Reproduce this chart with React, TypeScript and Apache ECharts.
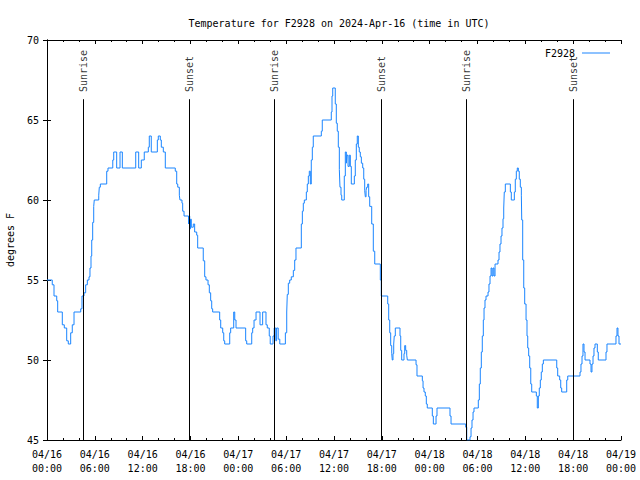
import React, { useEffect, useRef } from "react";
import * as echarts from "echarts";

// Hours since 2024-04-16 00:00 UTC and the temperature (°F) that starts at that moment
const sampleHours = [
  0, 0.66, 0.88, 1.22, 1.34, 1.92, 2.17, 2.47, 2.67, 2.97, 3.17, 3.39, 4.23, 4.39, 4.64, 4.85,
  5.06, 5.27, 5.39, 5.52, 5.61, 5.73, 5.86, 5.93, 6.49, 6.56, 6.69, 7.49, 7.65, 8.25, 8.37, 8.74,
  9.16, 9.45, 11.13, 11.5, 11.83, 12.2, 12.71, 12.83, 13.08, 13.84, 13.96, 14.21, 14.34, 14.59, 14.84, 16.09,
  16.27, 16.4, 16.6, 16.68, 16.93, 17.02, 17.19, 17.75, 17.8, 17.9, 18.0, 18.1, 18.35, 18.52, 18.78, 18.9,
  19.6, 19.78, 19.94, 20.2, 20.36, 20.53, 20.66, 20.78, 21.66, 21.79, 22.04, 22.17, 22.29, 22.92, 23.04, 23.42,
  23.55, 23.71, 24.92, 25.05, 25.68, 25.8, 25.97, 26.22, 26.72, 27.05, 27.47, 27.63, 27.88, 28.0, 28.35, 28.5,
  28.7, 28.8, 29.0, 29.2, 29.9, 30.07, 30.14, 30.27, 30.44, 30.64, 30.9, 31.07, 31.23, 31.9, 32.03, 32.15,
  32.28, 32.53, 32.65, 32.78, 32.9, 33.03, 33.15, 33.28, 33.4, 34.41, 34.53, 35.66, 35.75, 35.84, 36.16, 36.29,
  36.41, 36.54, 36.67, 36.75, 36.88, 36.97, 37.29, 37.42, 37.55, 37.63, 37.76, 37.92, 38.05, 38.17, 38.55, 38.67,
  38.8, 38.92, 39.05, 39.17, 39.3, 39.43, 39.6, 39.73, 39.85, 39.93, 40.02, 40.1, 40.23, 40.35, 40.48, 40.73,
  40.93, 41.11, 41.81, 41.93, 42.74, 42.86, 42.99, 43.11, 43.24, 43.31, 43.4, 43.49, 43.56, 43.69, 44.28, 44.37,
  44.49, 44.78, 44.87, 44.99, 45.12, 45.2, 46.29, 46.41, 47.08, 47.17, 47.29, 47.45, 47.58, 47.7, 48.33, 48.46,
  48.8, 48.92, 50.55, 50.68, 52.52, 52.65, 53.06, 53.19, 53.31, 53.44, 53.56, 54.1, 54.23, 54.35, 54.48, 54.6,
  54.73, 54.82, 54.94, 55.07, 55.32, 55.44, 55.57, 55.7, 55.82, 55.95, 56.07, 56.2, 56.57, 56.7, 56.82, 56.95,
  57.07, 57.2, 57.29, 57.36, 57.49, 58.12, 58.24, 58.62, 58.74, 58.87, 58.99, 59.12, 59.24, 59.37, 59.5, 59.55,
  59.67, 59.8, 59.92, 60.09, 60.21, 60.3, 60.42, 60.55, 60.68, 60.8, 61.38, 61.5, 61.63, 61.75, 61.88, 62.0,
  62.13, 62.26, 63.94, 64.06, 64.31, 64.44, 64.56, 65.19, 65.32, 66.86, 66.98, 67.11, 67.23, 67.36, 67.49, 68.11,
  68.24, 68.36, 68.49, 68.61, 68.74, 69.03, 69.15, 70.12, 70.24, 71.37, 71.5, 71.62, 71.75, 72,
];

const tempF = [
  55, 54.7, 54.0, 53.7, 53.0, 52.2, 52.0, 51.2, 51.0, 51.7, 52.2, 53.0, 53.2, 54.0, 54.2, 54.7,
  55.0, 55.2, 55.75, 56.5, 57.5, 58.6, 59.6, 60.0, 60.3, 60.8, 61.0, 61.8, 62.0, 62.5, 63.0, 62.0,
  63.0, 62.0, 63.0, 62.0, 62.5, 63.0, 63.3, 64.0, 63.0, 63.75, 64.0, 63.75, 63.3, 63.0, 62.0, 61.8,
  61.0, 60.8, 60.3, 60.0, 59.8, 59.3, 59.0, 58.5, 59.0, 58.2, 58.8, 58.3, 58.5, 58.0, 57.8, 57.0,
  56.2, 55.2, 55.0, 54.7, 54.2, 53.7, 53.2, 53.0, 52.5, 52.0, 51.7, 51.2, 51.0, 51.7, 52.0, 53.0,
  52.5, 52.0, 51.2, 51.0, 51.7, 52.0, 52.5, 53.0, 52.2, 53.0, 52.2, 52.0, 51.5, 51.0, 51.5, 52.0,
  51.2, 52.0, 51.3, 51.0, 51.7, 53.0, 54.1, 54.8, 55.0, 55.2, 55.6, 56.25, 57.0, 58.5, 59.3, 59.8,
  60.0, 60.5, 61.0, 61.5, 61.8, 61.0, 62.5, 63.3, 64.0, 64.3, 65.0, 65.5, 66.5, 67.0, 66.0, 64.8,
  64.3, 63.3, 61.9, 60.8, 60.3, 60.0, 61.5, 63.0, 62.3, 62.8, 62.1, 62.8, 62.1, 61.0, 61.5, 62.5,
  63.5, 64.0, 63.3, 63.0, 62.7, 62.3, 62.0, 61.3, 60.6, 60.2, 60.6, 60.8, 61.0, 60.2, 59.6, 58.5,
  56.8, 56.0, 55.0, 54.0, 53.5, 52.5, 51.7, 50.9, 50.4, 50.0, 50.4, 51.0, 51.5, 52.0, 51.5, 50.6,
  50.0, 50.4, 50.9, 50.6, 50.3, 50.0, 49.7, 49.0, 48.7, 48.25, 48.0, 47.75, 47.25, 47.0, 46.5, 46.0,
  46.5, 47.0, 46.5, 46.0, 45.8, 45.0, 45.2, 45.75, 46.25, 46.75, 47.0, 47.5, 48.5, 49.5, 50.5, 51.5,
  52.5, 53.25, 53.75, 54.0, 54.25, 54.75, 55.25, 55.75, 55.25, 55.75, 55.25, 56.0, 56.25, 56.75, 57.25, 57.75,
  58.25, 58.83, 59.5, 60.5, 61.0, 60.5, 60.0, 60.5, 61.3, 61.8, 62.0, 61.8, 61.3, 60.8, 60.3, 58.75,
  56.25, 54.5, 53.5, 52.5, 51.5, 50.75, 50.25, 49.5, 48.5, 48.0, 47.75, 47.0, 47.75, 48.25, 48.75, 49.25,
  49.75, 50.0, 49.5, 49.0, 48.75, 48.25, 48.0, 48.75, 49.0, 49.25, 49.75, 50.25, 51.0, 50.5, 50.0, 49.75,
  49.25, 49.75, 50.25, 50.75, 51.0, 50.5, 50.0, 50.5, 51.0, 51.5, 52.0, 51.5, 51.0, 51.0,
];

const sunEventNames = ["Sunrise", "Sunset", "Sunrise", "Sunset", "Sunrise", "Sunset"];
const sunEventHours = [4.56, 17.85, 28.51, 41.93, 52.6, 66.02];
const sunLineTop = 66.3;
const sunLabelBase = 66.75;

const startDay = 16;
const monthLabel = "04";

const FONT = "'DejaVu Sans Mono', 'Liberation Mono', monospace";

function tickLabel(h: number): string {
  const day = startDay + Math.floor(h / 24);
  const hr = Math.round(h % 24);
  return `${monthLabel}/${day}\n${String(hr).padStart(2, "0")}:00`;
}

export default function App() {
  const ref = useRef<HTMLDivElement>(null);
  useEffect(() => {
    if (!ref.current) return;
    const chart = echarts.init(ref.current, undefined, { renderer: "svg" });
    const lineData = sampleHours.map((h, i) => [h, tempF[i]]);
    const axisCommon = {
      axisLine: { show: true, lineStyle: { color: "#000", width: 1 } },
      splitLine: { show: false },
    };
    chart.setOption({
      animation: false,
      backgroundColor: "#fff",
      title: {
        text: "Temperature for F2928 on 2024-Apr-16 (time in UTC)",
        left: 334,
        textAlign: "center",
        top: 13,
        textStyle: { fontFamily: FONT, fontSize: 10, fontWeight: "normal", color: "#000" },
      },
      legend: {
        data: ["F2928"],
        right: 25,
        top: 43,
        align: "right",
        icon: "rect",
        itemWidth: 28,
        itemHeight: 1,
        itemGap: 5,
        textStyle: { fontFamily: FONT, fontSize: 10, color: "#000", padding: [0, 2, 0, 0] },
      },
      grid: {
        left: 47,
        right: 19,
        top: 40,
        bottom: 40,
        containLabel: false,
        outerBoundsMode: "none",
      },
      xAxis: [
        {
          type: "value",
          position: "bottom",
          min: 0,
          max: 72,
          interval: 6,
          ...axisCommon,
          axisTick: { show: true, inside: true, length: 4, lineStyle: { color: "#000" } },
          minorTick: { show: true, splitNumber: 3, length: 2, lineStyle: { color: "#000" } },
          axisLabel: {
            formatter: tickLabel,
            fontFamily: FONT,
            fontSize: 10,
            color: "#000",
            margin: 7,
            lineHeight: 14,
          },
        },
        {
          type: "value",
          position: "top",
          min: 0,
          max: 72,
          interval: 6,
          ...axisCommon,
          axisTick: { show: true, inside: true, length: 4, lineStyle: { color: "#000" } },
          minorTick: { show: true, splitNumber: 3, length: 2, lineStyle: { color: "#000" } },
          axisLabel: { show: false },
        },
      ],
      yAxis: [
        {
          type: "value",
          position: "left",
          min: 45,
          max: 70,
          interval: 5,
          ...axisCommon,
          axisTick: { show: true, inside: true, length: 4, lineStyle: { color: "#000" } },
          axisLabel: { fontFamily: FONT, fontSize: 10, color: "#000", margin: 8 },
          name: "degrees F",
          nameLocation: "middle",
          nameGap: 32,
          nameRotate: 90,
          nameTextStyle: { fontFamily: FONT, fontSize: 10, color: "#000" },
        },
        {
          type: "value",
          position: "right",
          min: 45,
          max: 70,
          interval: 5,
          ...axisCommon,
          axisTick: { show: true, inside: true, length: 4, lineStyle: { color: "#000" } },
          axisLabel: { show: false },
        },
      ],
      series: [
        {
          name: "F2928",
          type: "line",
          step: "end",
          data: lineData,
          showSymbol: false,
          symbol: "none",
          color: "#1a85ff",
          lineStyle: { width: 1, color: "#1a85ff" },
          markLine: {
            silent: true,
            symbol: ["none", "none"],
            label: { show: false },
            lineStyle: { color: "#000", width: 1, type: "solid" },
            data: sunEventHours.map((h) => [
              { coord: [h, 45] },
              { coord: [h, sunLineTop] },
            ]),
          },
        },
        {
          name: "sun",
          type: "scatter",
          symbolSize: 0,
          silent: true,
          data: sunEventHours.map((h, i) => ({ value: [h, sunLabelBase], name: sunEventNames[i] })),
          label: {
            show: true,
            formatter: "{b}",
            position: "inside",
            rotate: 90,
            align: "left",
            verticalAlign: "middle",
            fontFamily: FONT,
            fontSize: 10,
            color: "#000",
          },
        },
      ],
    });
    return () => chart.dispose();
  }, []);
  return (
    <div
      ref={ref}
      style={{ position: "fixed", left: 0, top: 0, width: 640, height: 480, background: "#fff" }}
    />
  );
}
